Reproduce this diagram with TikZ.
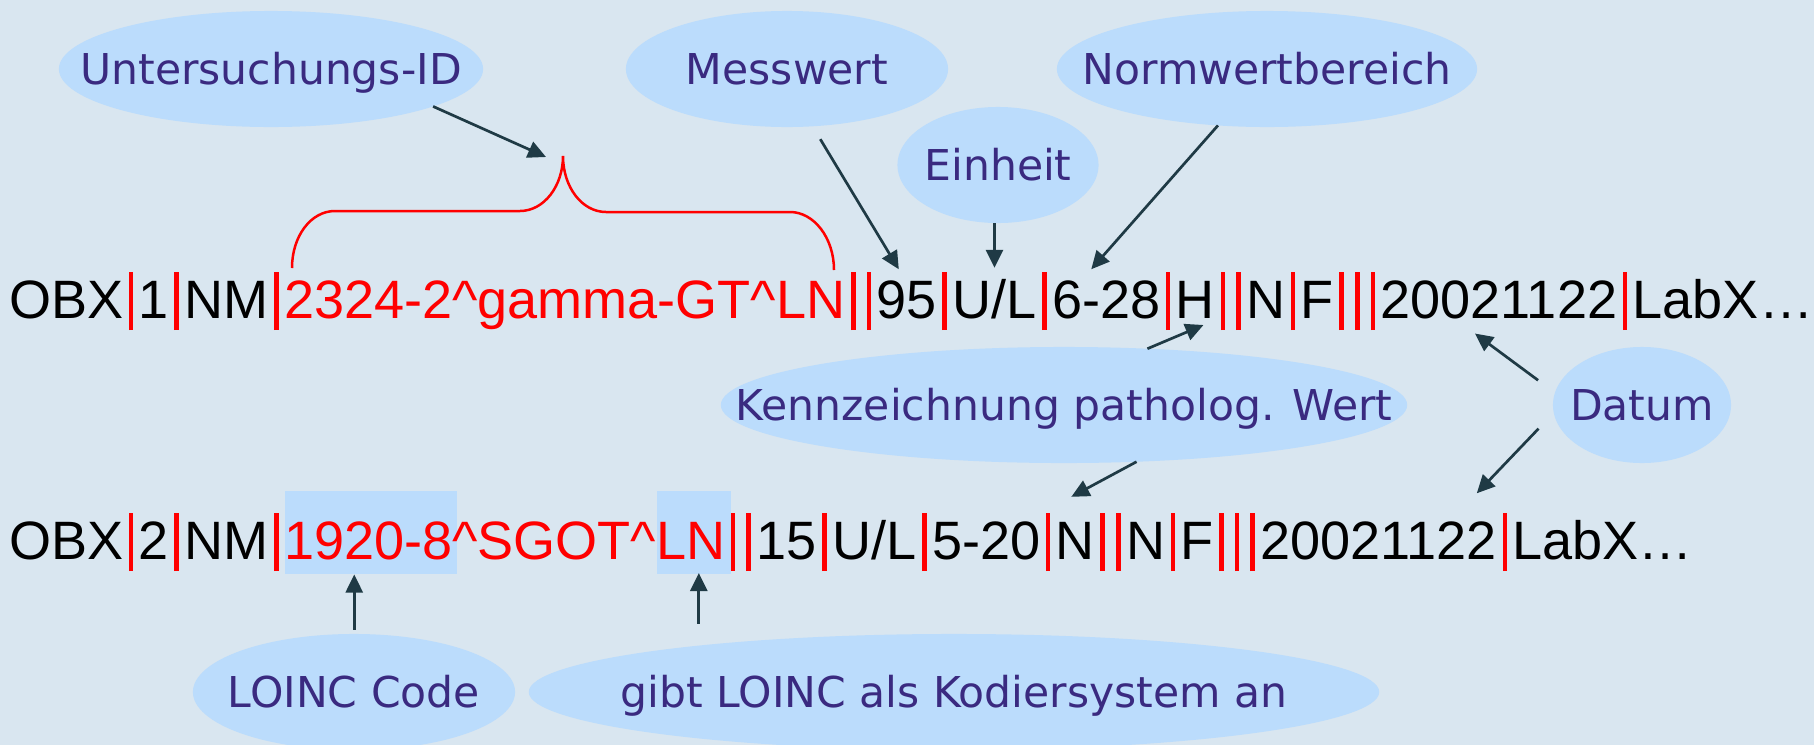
\documentclass[tikz,border=0pt]{standalone}
\usepackage{fontspec}
\usetikzlibrary{arrows.meta,shapes.geometric,calc}
\newfontfamily\rowfont{Liberation Sans}
\newfontfamily\labfont{DejaVu Sans}
\definecolor{bgcol}{HTML}{D9E6F0}
\definecolor{bubcol}{HTML}{BBDCFC}
\definecolor{labcol}{HTML}{3A2A80}
\definecolor{arrcol}{HTML}{1F3A45}
\definecolor{hlred}{HTML}{FF0000}
% red field separator of an HL7 segment
\newcommand\sepbar{\makebox[0.156cm]{\textcolor{hlred}{\rule[-0.12cm]{0.046cm}{0.58cm}}}}
\pgfdeclarelayer{back}
\pgfsetlayers{back,main}

\begin{document}
\begin{tikzpicture}[x=0.01cm,y=-0.01cm,
  bubble/.style={ellipse, fill=bubcol, inner sep=0pt, outer sep=0pt},
  bubtext/.style={font=\labfont\fontsize{12.09pt}{14pt}\selectfont, text=labcol,
    inner sep=0pt, text height=0.31cm, text depth=0pt},
  fld/.style={font=\rowfont\fontsize{15.37pt}{18pt}\selectfont, inner sep=0pt,
    outer sep=0pt, anchor=base west},
  arr/.style={draw=arrcol, line width=0.027cm, -{Triangle[length=0.18cm,width=0.17cm]}},
  brace/.style={draw=hlred, line width=0.025cm},
  hl/.style={fill=bubcol}]

\useasboundingbox (0,0) rectangle (1814,745);

% --- callout bubbles ---
\node[bubble, minimum width=4.24cm, minimum height=1.16cm] (uid)   at (271,69)  {};
\node[bubble, minimum width=3.22cm, minimum height=1.16cm] (mess)  at (787,69)  {};
\node[bubble, minimum width=4.20cm, minimum height=1.16cm] (norm)  at (1267,69) {};
\node[bubble, minimum width=2.01cm, minimum height=1.16cm] (einh)  at (998,165) {};
\node[bubble, minimum width=6.86cm, minimum height=1.16cm] (kenn)  at (1064,405) {};
\node[bubble, minimum width=1.78cm, minimum height=1.16cm] (datum) at (1642,405) {};
\node[bubble, minimum width=3.22cm, minimum height=1.16cm] (loinc) at (354,692) {};
\node[bubble, minimum width=8.50cm, minimum height=1.16cm] (gibt)  at (954,692) {};

\node[bubtext] at (uid)   {Untersuchungs-ID};
\node[bubtext] at (mess)  {Messwert};
\node[bubtext] at (norm)  {Normwertbereich};
\node[bubtext] at (einh)  {Einheit};
\node[bubtext] at (kenn)  {Kennzeichnung patholog. Wert};
\node[bubtext] at (datum) {Datum};
\node[bubtext] at (loinc) {LOINC Code};
\node[bubtext] at (gibt)  {gibt LOINC als Kodiersystem an};

% --- first OBX segment ---
\node[fld] (a1) at (9,318) {OBX};
\node[fld] (a2) at (a1.base east) {\sepbar 1\sepbar NM\sepbar};
\node[fld, text=hlred] (id1) at (a2.base east) {2324-2\textasciicircum gamma-GT\textasciicircum LN};
\node[fld] (a3) at (id1.base east) {\sepbar\sepbar};
\node[fld] (val1) at (a3.base east) {95};
\node[fld] (a4) at (val1.base east) {\sepbar};
\node[fld] (unit1) at (a4.base east) {U/L};
\node[fld] (a5) at (unit1.base east) {\sepbar};
\node[fld] (rng1) at (a5.base east) {6-28};
\node[fld] (a6) at (rng1.base east) {\sepbar};
\node[fld] (flag1) at (a6.base east) {H};
\node[fld] (a7) at (flag1.base east) {\sepbar\sepbar N\sepbar F\sepbar\sepbar\sepbar};
\node[fld] (date1) at (a7.base east) {20021122};
\node[fld] (a8) at (date1.base east) {\sepbar LabX…};

% --- second OBX segment ---
\node[fld] (b1) at (9,559) {OBX};
\node[fld] (b2) at (b1.base east) {\sepbar 2\sepbar NM\sepbar};
\node[fld, text=hlred] (code2) at (b2.base east) {1920-8};
\node[fld, text=hlred] (b3) at (code2.base east) {\textasciicircum SGOT\textasciicircum};
\node[fld, text=hlred] (sys2) at (b3.base east) {LN};
\node[fld] (b4) at (sys2.base east) {\sepbar\sepbar 15\sepbar U/L\sepbar 5-20\sepbar};
\node[fld] (flag2) at (b4.base east) {N};
\node[fld] (b5) at (flag2.base east) {\sepbar\sepbar N\sepbar F\sepbar\sepbar\sepbar};
\node[fld] (date2) at (b5.base east) {20021122};
\node[fld] (b6) at (date2.base east) {\sepbar LabX…};

% --- background and highlighted code parts ---
\begin{pgfonlayer}{back}
  \fill[bgcol] (0,0) rectangle (1814,745);
  \fill[hl] ($(code2.base west)+(1,-68)$) rectangle ($(code2.base east)+(5,15)$);
  \fill[hl] ($(sys2.base west)+(1,-68)$) rectangle ($(sys2.base east)+(6,15)$);
\end{pgfonlayer}

% --- curly brace over the identifier field ---
\draw[brace] (292,268) .. controls (292,236) and (311,211) .. (335,211) -- (520,211)
  .. controls (544,211) and (563,186) .. (563,156)
  .. controls (563,187) and (582,212) .. (606,212) -- (790,212)
  .. controls (814,212) and (834,238) .. (834,270);
\coordinate (uidtip) at (546,157);

% --- connectors ---
\draw[arr] (uid.-13.1) -- (uidtip);
\draw[arr, shorten <=0.15cm] (mess.-66.8) -- ([shift={(-8,-11)}]val1.north);
\coordinate (unittip) at ([shift={(0,-11)}]unit1.north);
\draw[arr] (unittip |- einh.south) -- (unittip);
\draw[arr] (norm.-131.6) -- ([shift={(-15,-11)}]rng1.north);
\draw[arr] (kenn.34.8) -- ([shift={(8,7)}]flag1.south);
\draw[arr] (kenn.-38.4) -- ([shift={(-4,-25)}]flag2.north);
\draw[arr, shorten <=0.21cm] (datum.172.6) -- ([shift={(-24,15)}]date1.south);
\draw[arr, shorten <=0.22cm] (datum.-175.1) -- ([shift={(98,-28)}]date2.north);
\coordinate (codetip) at ([shift={(-14,15)}]code2.south);
\draw[arr, shorten <=0.04cm] (codetip |- loinc.north) -- (codetip);
\coordinate (systip) at ([shift={(8,14)}]sys2.south);
\draw[arr, shorten <=0.10cm] (systip |- gibt.north) -- (systip);
\end{tikzpicture}
\end{document}
